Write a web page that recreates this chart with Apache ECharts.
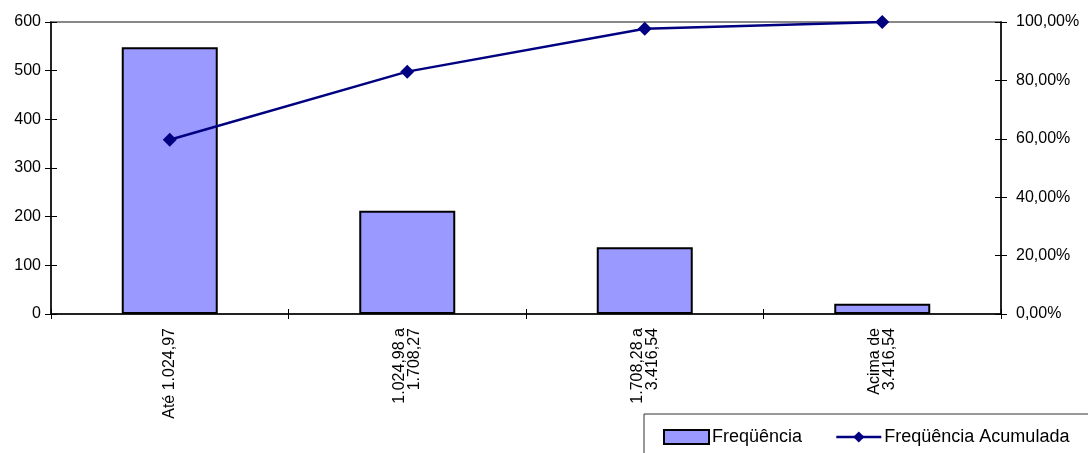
<!DOCTYPE html>
<html>
<head>
<meta charset="utf-8">
<script src="https://cdn.jsdelivr.net/npm/echarts@6/dist/echarts.min.js"></script>
<style>
html,body{margin:0;padding:0;background:#fff;}
#chart{width:1088px;height:453px;}
</style>
</head>
<body>
<div id="chart"></div>
<script>
var categories = ['Até 1.024,97', '1.024,98 a\n1.708,27', '1.708,28 a\n3.416,54', 'Acima de\n3.416,54'];
var frequencia = [548, 212, 137, 21];
var freqAcumulada = [59.7, 83.0, 97.7, 100.0];
var seriesNames = ['Freqüência', 'Freqüência Acumulada'];

var FONT = '"Liberation Sans", Arial, sans-serif';
var chart = echarts.init(document.getElementById('chart'), null, {renderer: 'canvas'});

function pct(v){ return v.toFixed(2).replace('.', ',') + '%'; }

var axisLine = {show: true, lineStyle: {color: '#000', width: 1.5}};
var tickStyle = {color: '#000', width: 1};

var option = {
  animation: false,
  backgroundColor: '#fff',
  textStyle: {fontFamily: FONT},
  grid: {left: 51, right: 87, top: 22, bottom: 139, show: true, borderColor: '#888', borderWidth: 2, backgroundColor: 'transparent'},
  legend: {
    left: 644, top: 414, width: 600,
    padding: [14, 60, 20, 19],
    itemWidth: 45, itemHeight: 14, itemGap: 33,
    borderColor: '#333', borderWidth: 1, backgroundColor: '#fff',
    textStyle: {fontFamily: FONT, fontSize: 18, color: '#000', padding: [0, 0, 0, -2]},
    data: [
      {name: seriesNames[0], icon: 'rect'},
      {name: seriesNames[1], lineStyle: {width: 2.5, color: '#000080'}}
    ]
  },
  xAxis: [{
    type: 'category', data: categories, position: 'bottom',
    boundaryGap: true,
    axisLine: axisLine,
    axisTick: {show: true, inside: false, length: 5, lineStyle: tickStyle},
    axisLabel: {rotate: 90, fontSize: 16, color: '#000', fontFamily: FONT, margin: 14, lineHeight: 15}
  }, {
    type: 'category', data: categories, position: 'bottom',
    boundaryGap: true,
    axisLine: {show: false},
    axisTick: {show: true, inside: true, length: 5, lineStyle: tickStyle},
    axisLabel: {show: false}
  }],
  yAxis: [{
    type: 'value', min: 0, max: 600, interval: 100, position: 'left',
    axisLine: axisLine,
    axisTick: {show: true, inside: false, length: 6, lineStyle: tickStyle},
    axisLabel: {fontSize: 16, color: '#000', fontFamily: FONT, margin: 10},
    splitLine: {show: false}
  }, {
    type: 'value', min: 0, max: 100, interval: 20, position: 'right',
    axisLine: axisLine,
    axisTick: {show: true, inside: false, length: 6, lineStyle: tickStyle},
    axisLabel: {fontSize: 16, color: '#000', fontFamily: FONT, margin: 15, formatter: pct},
    splitLine: {show: false}
  }, {
    type: 'value', min: 0, max: 600, interval: 100, position: 'left', offset: 0,
    axisLine: {show: false},
    axisTick: {show: true, inside: true, length: 6, lineStyle: tickStyle},
    axisLabel: {show: false}, splitLine: {show: false}
  }, {
    type: 'value', min: 0, max: 100, interval: 20, position: 'right', offset: 0,
    axisLine: {show: false},
    axisTick: {show: true, inside: true, length: 6, lineStyle: tickStyle},
    axisLabel: {show: false}, splitLine: {show: false}
  }],
  series: [{
    name: seriesNames[0], type: 'bar', data: frequencia,
    xAxisIndex: 0, yAxisIndex: 0,
    barWidth: 96,
    itemStyle: {color: '#9999FF', borderColor: '#000', borderWidth: 2}
  }, {
    name: seriesNames[1], type: 'line', data: freqAcumulada,
    xAxisIndex: 0, yAxisIndex: 1,
    symbol: 'diamond', symbolSize: 14,
    lineStyle: {color: '#000080', width: 2.5},
    itemStyle: {color: '#000080'},
    z: 5
  }]
};
chart.setOption(option);
</script>
</body>
</html>
